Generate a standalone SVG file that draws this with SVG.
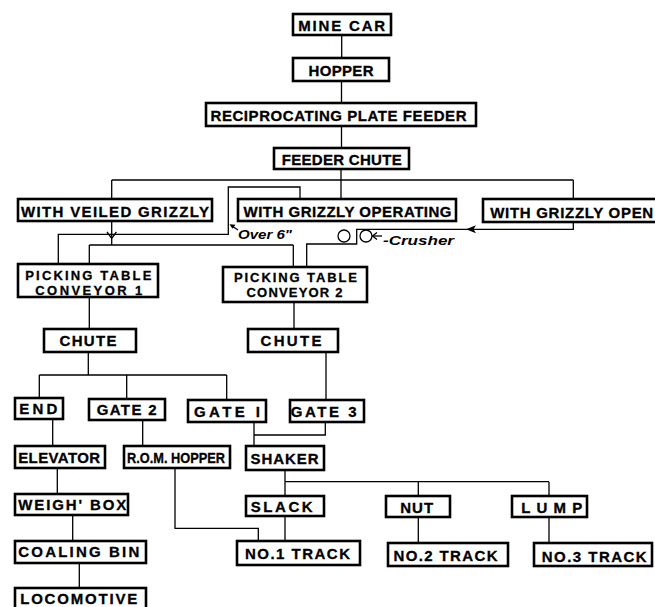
<svg xmlns="http://www.w3.org/2000/svg" width="655" height="607" viewBox="0 0 655 607">
<style>
.b{fill:#fff;stroke:#000;stroke-width:2.6}
.t{font-family:"Liberation Sans",Arial,sans-serif;font-weight:bold;font-size:15px;fill:#000;stroke:#000;stroke-width:0.3;text-anchor:middle}
.s{font-size:13px}
.c{fill:none;stroke:#000;stroke-width:1.3}
.i{font-family:"Liberation Sans",Arial,sans-serif;font-style:italic;font-weight:bold;font-size:13px;fill:#000}
</style>
<rect width="655" height="607" fill="#fff"/>
<g id="connectors">
<path class="c" d="M341.7,35V57M341.5,82V102M341.5,127V147M341,170V198M111.7,180H573.3M111.7,180V198M573.3,180V198"/>
<path class="c" d="M300,198V187H228.3V234.3H58.3V263"/>
<path class="c" d="M111.7,222V245M89.3,245H293.3M89.3,245V263M293.3,245V266"/>
<path class="c" d="M107,232L111.7,238.5L116.4,232"/>
<path class="c" d="M573.3,222V229.3H356.7V244H306.7V266"/>
<path d="M466,229.3L476,225.3L473.5,229.3L476,233.3Z" fill="#000"/>
<path class="c" d="M238,230L231,225.3"/>
<path d="M229.5,224.2L235.5,224.8L232.5,228.8Z" fill="#000"/>
<circle class="c" cx="344" cy="236" r="6"/>
<circle class="c" cx="366" cy="236" r="6"/>
<path class="c" d="M372.5,236H382"/>
<path class="c" d="M377,232.5L372.5,236L377,239.5"/>
<path class="c" d="M89.3,298V328M294,303V328M88.3,353V375M39.3,375H226.7M39.3,375V397M126.7,375V398M226.7,375V399M326,353V399"/>
<path class="c" d="M254,423V445M325.3,423V435H254M52.7,420V445M142.7,421V445M57.3,469V493M72.7,516V540M79.3,564V587"/>
<path class="c" d="M175,469V528.3H258.3V540M285,471V495M285,481.7H549M418.3,481.7V495M549,481.7V495M285,517V540M418.3,518V542M549,518V542"/>
</g>
<text class="i" x="238" y="239" textLength="54" lengthAdjust="spacingAndGlyphs">Over 6"</text>
<text class="i" x="383" y="244.5" textLength="71" lengthAdjust="spacingAndGlyphs">-Crusher</text>
<g id="mine-car"><rect class="b" x="293" y="14" width="98" height="21"/><text class="t" x="341.7" y="30.5" textLength="87" lengthAdjust="spacing">MINE CAR</text></g>
<g id="hopper"><rect class="b" x="293" y="58" width="96" height="23"/><text class="t" x="341" y="75.5" textLength="65" lengthAdjust="spacing">HOPPER</text></g>
<g id="feeder"><rect class="b" x="206" y="103" width="270" height="23"/><text class="t" x="338.5" y="121" textLength="256" lengthAdjust="spacing">RECIPROCATING PLATE FEEDER</text></g>
<g id="feeder-chute"><rect class="b" x="274" y="148" width="135" height="21"/><text class="t" x="341.7" y="165" textLength="120" lengthAdjust="spacing">FEEDER CHUTE</text></g>
<g id="veiled"><rect class="b" x="18" y="199" width="194" height="22"/><text class="t" x="115" y="217" textLength="188" lengthAdjust="spacing">WITH VEILED GRIZZLY</text></g>
<g id="operating"><rect class="b" x="238" y="199" width="218" height="22"/><text class="t" x="347.5" y="217" textLength="208" lengthAdjust="spacing">WITH GRIZZLY OPERATING</text></g>
<g id="open"><rect class="b" x="483" y="199" width="180" height="23"/><text class="t" x="571.7" y="217.5" textLength="163" lengthAdjust="spacing">WITH GRIZZLY OPEN</text></g>
<g id="pt1"><rect class="b" x="18" y="264" width="140" height="33"/><text class="t s" x="88.3" y="279.5" textLength="126" lengthAdjust="spacing">PICKING TABLE</text><text class="t s" x="88.8" y="295" textLength="107" lengthAdjust="spacing">CONVEYOR 1</text></g>
<g id="pt2"><rect class="b" x="223" y="267" width="144" height="35"/><text class="t s" x="295.5" y="281.5" textLength="123" lengthAdjust="spacing">PICKING TABLE</text><text class="t s" x="294.5" y="297" textLength="96" lengthAdjust="spacing">CONVEYOR 2</text></g>
<g id="chute1"><rect class="b" x="44" y="329" width="92" height="23"/><text class="t" x="88" y="345.5" textLength="57" lengthAdjust="spacing">CHUTE</text></g>
<g id="chute2"><rect class="b" x="248" y="329" width="90" height="23"/><text class="t" x="291" y="345.5" textLength="61" lengthAdjust="spacing">CHUTE</text></g>
<g id="end"><rect class="b" x="15" y="398" width="48" height="21"/><text class="t" x="38.3" y="414" textLength="38" lengthAdjust="spacing">END</text></g>
<g id="gate2"><rect class="b" x="89" y="399" width="76" height="21"/><text class="t" x="126.7" y="415" textLength="60" lengthAdjust="spacing">GATE 2</text></g>
<g id="gate1"><rect class="b" x="188" y="400" width="78" height="22"/><text class="t" x="227" y="417" textLength="66" lengthAdjust="spacing">GATE I</text></g>
<g id="gate3"><rect class="b" x="290" y="400" width="74" height="22"/><text class="t" x="323.7" y="416.7" textLength="66" lengthAdjust="spacing">GATE 3</text></g>
<g id="elevator"><rect class="b" x="15" y="446" width="90" height="22"/><text class="t" x="59.2" y="463.3" textLength="82" lengthAdjust="spacing">ELEVATOR</text></g>
<g id="rom-hopper"><rect class="b" x="124" y="446" width="106" height="22"/><text class="t" x="176" y="462.7" textLength="98" lengthAdjust="spacingAndGlyphs">R.O.M. HOPPER</text></g>
<g id="shaker"><rect class="b" x="246" y="446" width="78" height="24"/><text class="t" x="284.5" y="464" textLength="68" lengthAdjust="spacing">SHAKER</text></g>
<g id="weigh-box"><rect class="b" x="15" y="494" width="113" height="21"/><text class="t" x="72.2" y="510" textLength="108" lengthAdjust="spacing">WEIGH' BOX</text></g>
<g id="coaling-bin"><rect class="b" x="15" y="541" width="131" height="22"/><text class="t" x="78.8" y="557.3" textLength="121" lengthAdjust="spacing">COALING BIN</text></g>
<g id="locomotive"><rect class="b" x="15" y="588" width="131" height="22"/><text class="t" x="78.7" y="604" textLength="117" lengthAdjust="spacing">LOCOMOTIVE</text></g>
<g id="slack"><rect class="b" x="246" y="496" width="78" height="20"/><text class="t" x="281.7" y="511.7" textLength="62" lengthAdjust="spacing">SLACK</text></g>
<g id="nut"><rect class="b" x="386" y="496" width="64" height="21"/><text class="t" x="416.7" y="512.7" textLength="33" lengthAdjust="spacing">NUT</text></g>
<g id="lump"><rect class="b" x="512" y="496" width="75" height="21"/><text class="t" x="551.7" y="512.7" textLength="61" lengthAdjust="spacing">LUMP</text></g>
<g id="track1"><rect class="b" x="237" y="541" width="123" height="24"/><text class="t" x="297.5" y="559.3" textLength="105" lengthAdjust="spacing">NO.1 TRACK</text></g>
<g id="track2"><rect class="b" x="388" y="543" width="120" height="23"/><text class="t" x="445.5" y="560.7" textLength="104" lengthAdjust="spacing">NO.2 TRACK</text></g>
<g id="track3"><rect class="b" x="534" y="543" width="118" height="23"/><text class="t" x="594.2" y="561.7" textLength="105" lengthAdjust="spacing">NO.3 TRACK</text></g>
</svg>
